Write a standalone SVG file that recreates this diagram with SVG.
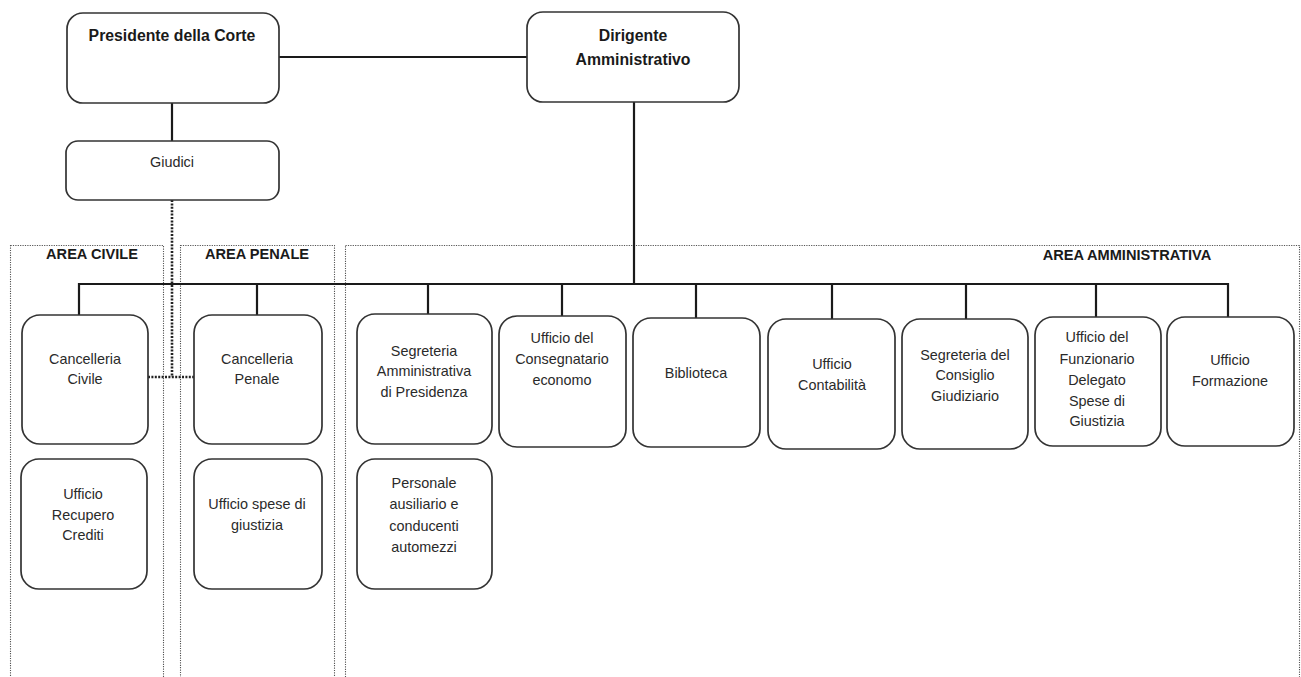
<svg xmlns="http://www.w3.org/2000/svg" width="1301" height="677" viewBox="0 0 1301 677">
<style>
.box{fill:#fff;stroke:#333;stroke-width:1.7}
.area{fill:none;stroke:#555;stroke-width:1.1;stroke-dasharray:1.2 1.2}
.con{fill:none;stroke:#1a1a1a;stroke-width:2.2}
.dot{fill:none;stroke:#222;stroke-width:2.6;stroke-dasharray:2 1.4}
text{font-family:"Liberation Sans",Arial,sans-serif;font-size:14.4px;fill:#2a2a2a;text-anchor:middle}
.b{font-weight:bold;fill:#1a1a1a;font-size:14.6px}
.h{font-size:15.8px}
</style>
<rect width="1301" height="677" fill="#fff"/>
<g id="areas">
<rect class="area" x="10.5" y="245.5" width="153" height="445"/>
<rect class="area" x="180.5" y="245.5" width="154" height="445"/>
<rect class="area" x="345.5" y="245.5" width="954" height="445"/>
<text class="b" x="92" y="259">AREA CIVILE</text>
<text class="b" x="257" y="259">AREA PENALE</text>
<text class="b" x="1127" y="260">AREA AMMINISTRATIVA</text>
</g>
<g id="connectors">
<line class="con" x1="279" y1="57" x2="527" y2="57"/>
<line class="con" x1="172" y1="103" x2="172" y2="141"/>
<line class="con" x1="634" y1="102" x2="634" y2="284"/>
<polyline class="con" points="79,315 79,284 1228,284 1228,317"/>
<line class="con" x1="257" y1="284" x2="257" y2="315"/>
<line class="con" x1="428" y1="284" x2="428" y2="315"/>
<line class="con" x1="562" y1="284" x2="562" y2="317"/>
<line class="con" x1="696" y1="284" x2="696" y2="318"/>
<line class="con" x1="832" y1="284" x2="832" y2="319"/>
<line class="con" x1="966" y1="284" x2="966" y2="319"/>
<line class="con" x1="1096" y1="284" x2="1096" y2="317"/>
<polyline class="dot" points="172,200 172,377"/>
<line class="dot" x1="148" y1="377" x2="195" y2="377"/>
</g>
<g id="presidente"><rect class="box" x="67" y="13" width="212" height="90" rx="16"/><text class="b h" x="172" y="41">Presidente della Corte</text></g>
<g id="dirigente"><rect class="box" x="527" y="12" width="212" height="90" rx="16"/><text class="b h" x="633" y="41">Dirigente</text><text class="b h" x="633" y="65">Amministrativo</text></g>
<g id="giudici"><rect class="box" x="66" y="141" width="213" height="59" rx="12"/><text x="172" y="167">Giudici</text></g>
<g id="canc-civile"><rect class="box" x="22" y="315" width="126" height="129" rx="18"/><text x="85" y="364">Cancelleria</text><text x="85" y="384">Civile</text></g>
<g id="recupero"><rect class="box" x="21" y="459" width="126" height="130" rx="18"/><text x="83" y="499">Ufficio</text><text x="83" y="520">Recupero</text><text x="83" y="540">Crediti</text></g>
<g id="canc-penale"><rect class="box" x="194" y="315" width="128" height="129" rx="18"/><text x="257" y="364">Cancelleria</text><text x="257" y="384">Penale</text></g>
<g id="spese"><rect class="box" x="194" y="459" width="128" height="130" rx="18"/><text x="257" y="509">Ufficio spese di</text><text x="257" y="530">giustizia</text></g>
<g id="segreteria-amm"><rect class="box" x="357" y="314" width="135" height="130" rx="18"/><text x="424" y="356">Segreteria</text><text x="424" y="376">Amministrativa</text><text x="424" y="397">di Presidenza</text></g>
<g id="personale"><rect class="box" x="357" y="459" width="135" height="130" rx="18"/><text x="424" y="488">Personale</text><text x="424" y="509">ausiliario e</text><text x="424" y="531">conducenti</text><text x="424" y="552">automezzi</text></g>
<g id="consegnatario"><rect class="box" x="499" y="316" width="127" height="131" rx="18"/><text x="562" y="343">Ufficio del</text><text x="562" y="364">Consegnatario</text><text x="562" y="385">economo</text></g>
<g id="biblioteca"><rect class="box" x="633" y="318" width="127" height="129" rx="18"/><text x="696" y="378">Biblioteca</text></g>
<g id="contabilita"><rect class="box" x="768" y="319" width="127" height="130" rx="18"/><text x="832" y="369">Ufficio</text><text x="832" y="390">Contabilità</text></g>
<g id="consiglio"><rect class="box" x="902" y="319" width="126" height="130" rx="18"/><text x="965" y="360">Segreteria del</text><text x="965" y="380">Consiglio</text><text x="965" y="401">Giudiziario</text></g>
<g id="funzionario"><rect class="box" x="1035" y="317" width="126" height="129" rx="18"/><text x="1097" y="342">Ufficio del</text><text x="1097" y="364">Funzionario</text><text x="1097" y="385">Delegato</text><text x="1097" y="406">Spese di</text><text x="1097" y="426">Giustizia</text></g>
<g id="formazione"><rect class="box" x="1167" y="317" width="127" height="129" rx="18"/><text x="1230" y="365">Ufficio</text><text x="1230" y="386">Formazione</text></g>
</svg>
